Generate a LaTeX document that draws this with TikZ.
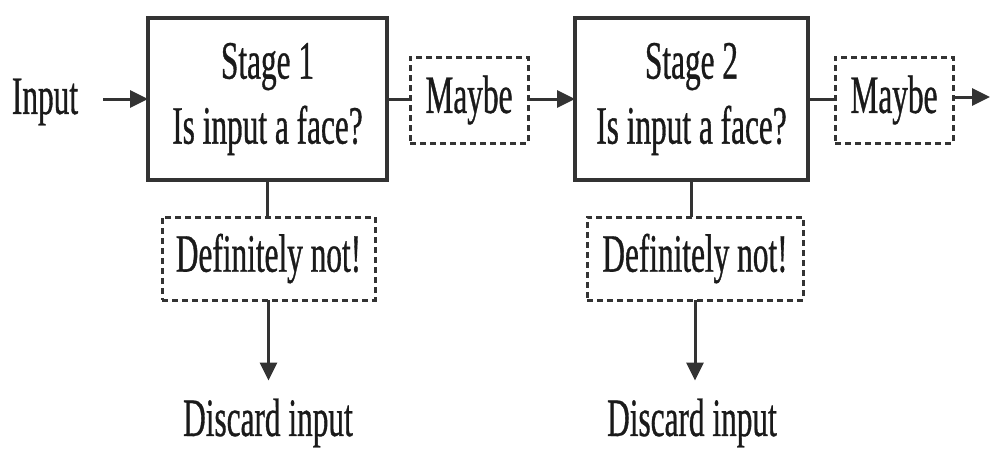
\documentclass[tikz,border=0pt]{standalone}
\usepackage{fontspec}
\setmainfont{Liberation Serif}[FakeStretch=0.58, FakeBold=0.6]
\usetikzlibrary{arrows.meta}
\definecolor{ink}{HTML}{1A1A1A}
\definecolor{rule}{HTML}{333333}
\begin{document}
\begin{tikzpicture}[x=1pt,y=-1pt,
  every node/.style={text=ink, font=\fontsize{54}{65}\selectfont, inner sep=0pt, outer sep=0pt, align=center},
  stagebox/.style={draw=rule, line width=3.4pt, fill=white},
  hintbox/.style={draw=rule, line width=3pt, dash pattern=on 6pt off 4pt, fill=white},
  link/.style={draw=rule, line width=3pt},
  arr/.style={link, -{Triangle[length=18pt,width=17pt]}}
]
\useasboundingbox (0,0) rectangle (990,451);

% pipeline nodes
\node (inp) at (45,102) {Input};
\node[stagebox, minimum width=239pt, minimum height=162pt] (s1) at (267.5,99) {Stage 1\\Is input a face?};
\node[hintbox, minimum width=118pt, minimum height=86pt] (m1) at (469,100) {Maybe};
\node[stagebox, minimum width=233pt, minimum height=162pt] (s2) at (691.5,99) {Stage 2\\Is input a face?};
\node[hintbox, minimum width=118pt, minimum height=86pt] (m2) at (894,100) {Maybe};
\coordinate (out) at (990,97);

% rejection branches
\node[hintbox, minimum width=213pt, minimum height=83pt] (d1) at (268.5,258.5) {Definitely not!};
\node[hintbox, minimum width=216pt, minimum height=83pt] (d2) at (695,258.5) {Definitely not!};
\node (x1) at (268,423) {Discard input};
\node (x2) at (692,423) {Discard input};

% connectors
\draw[arr, shorten <=25pt] (inp.east |- s1.west) -- (s1.west);
\draw[link] (s1.east) -- (m1.west |- s1.east);
\draw[arr] (m1.east |- s2.west) -- (s2.west);
\draw[link] (s2.east) -- (m2.west |- s2.east);
\draw[arr] (m2.east |- out) -- (out);
\draw[link] (s1.south) -- (s1.south |- d1.north);
\draw[link] (s2.south) -- (s2.south |- d2.north);
\draw[arr, shorten >=18pt] (d1.south) -- (d1.south |- x1.north);
\draw[arr, shorten >=18pt] (d2.south) -- (d2.south |- x2.north);
\end{tikzpicture}
\end{document}
